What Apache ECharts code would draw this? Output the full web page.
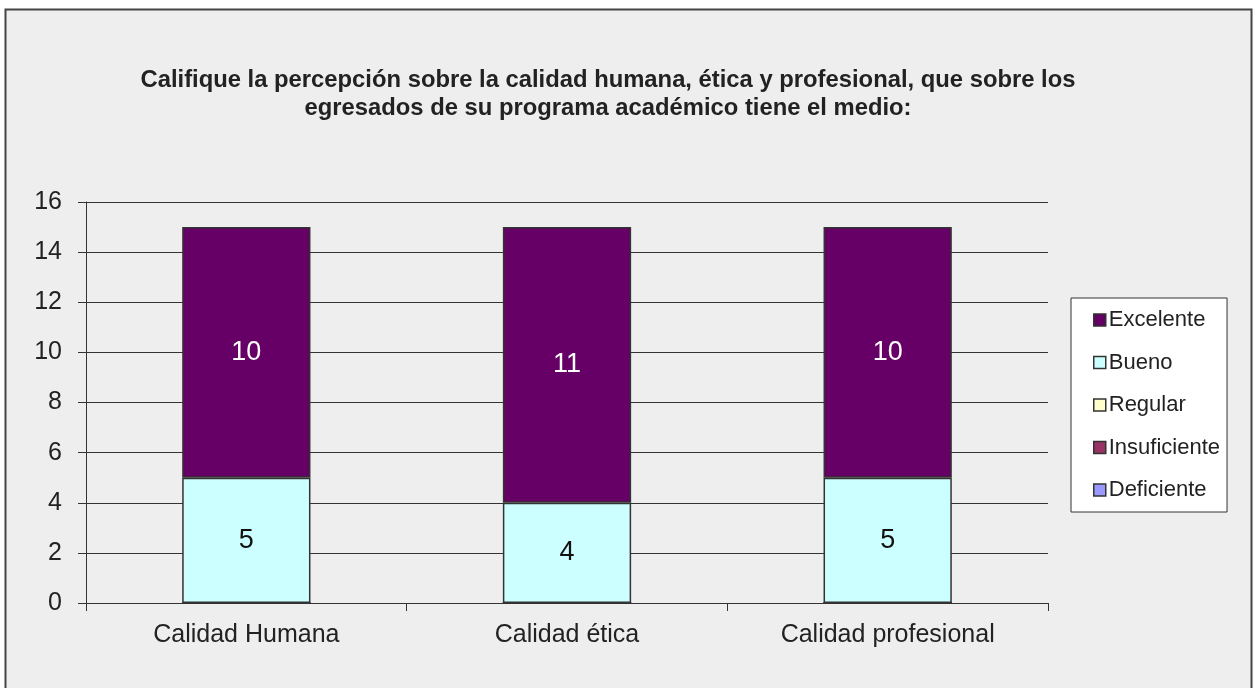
<!DOCTYPE html>
<html>
<head>
<meta charset="utf-8">
<script src="https://cdn.jsdelivr.net/npm/echarts@6/dist/echarts.min.js"></script>
<style>
  html, body { margin: 0; padding: 0; background: #fff; }
  #chart { width: 1254px; height: 688px; }
</style>
</head>
<body>
<div id="chart"></div>
<script>
const categories = ['Calidad Humana', 'Calidad ética', 'Calidad profesional'];
const deficiente = [0, 0, 0];
const insuficiente = [0, 0, 0];
const regular = [0, 0, 0];
const bueno = [5, 4, 5];
const excelente = [10, 11, 10];
const yTicks = [0, 16, 2]; // min, max, interval

const titleText = 'Califique la percepción sobre la calidad humana, ética y profesional, que sobre los\negresados de su programa académico tiene el medio:';
const font = 'Liberation Sans, Arial, sans-serif';

// stacked bottom to top, legend listed top to bottom like Excel
const seriesDefs = [
  { name: 'Deficiente', data: deficiente, color: '#9999FF', label: '#000' },
  { name: 'Insuficiente', data: insuficiente, color: '#993366', label: '#fff' },
  { name: 'Regular', data: regular, color: '#FFFFCC', label: '#000' },
  { name: 'Bueno', data: bueno, color: '#CCFFFF', label: '#111' },
  { name: 'Excelente', data: excelente, color: '#660066', label: '#fff' }
];

const el = document.getElementById('chart');
const chart = echarts.init(el);

const options = {
  backgroundColor: '#fff',
  animation: false,
  graphic: [{
    type: 'rect',
    z: -100,
    shape: { x: 5.5, y: 9.5, width: 1246, height: 700 },
    style: { fill: '#EEEEEE', stroke: '#444', lineWidth: 2 }
  }],
  title: {
    text: titleText,
    left: 603,
    textAlign: 'center',
    top: 61,
    textStyle: { fontFamily: font, fontSize: 23.8, fontWeight: 'bold', color: '#222', lineHeight: 28 }
  },
  legend: {
    orient: 'vertical',
    left: 1071,
    top: 298,
    padding: [11, 7, 11, 22],
    itemGap: 20.5,
    itemWidth: 12,
    itemHeight: 12,
    borderColor: '#333',
    borderWidth: 1,
    backgroundColor: '#fff',
    icon: 'rect',
    data: ['Excelente', 'Bueno', 'Regular', 'Insuficiente', 'Deficiente'],
    itemStyle: { borderColor: '#333', borderWidth: 1.5 },
    textStyle: { fontFamily: font, fontSize: 22, color: '#222', lineHeight: 22, padding: [0, 0, 0, -2] }
  },
  grid: { left: 86, right: 206, top: 202, bottom: 85, containLabel: false },
  xAxis: {
    type: 'category',
    data: categories,
    axisLine: { show: true, lineStyle: { color: '#333', width: 1 } },
    axisTick: { show: true, length: 8, lineStyle: { color: '#333' } },
    axisLabel: { fontFamily: font, fontSize: 25, color: '#222', margin: 20 }
  },
  yAxis: {
    type: 'value',
    min: yTicks[0],
    max: yTicks[1],
    interval: yTicks[2],
    axisLine: { show: true, lineStyle: { color: '#333', width: 1 } },
    axisTick: { show: true, length: 8, lineStyle: { color: '#333' } },
    splitLine: { show: true, lineStyle: { color: '#333', width: 1 } },
    axisLabel: { fontFamily: font, fontSize: 25, color: '#222', margin: 24 }
  },
  series: seriesDefs.map(s => ({
    name: s.name,
    type: 'bar',
    stack: 'total',
    data: s.data,
    barCategoryGap: '60%',
    itemStyle: { color: s.color, borderColor: '#333', borderWidth: 1.5 },
    label: {
      show: true,
      position: 'inside',
      fontFamily: font,
      fontSize: 27,
      color: s.label,
      formatter: p => (p.value ? String(p.value) : '')
    }
  }))
};

chart.setOption(options);
window.onresize = () => chart.resize();
</script>
</body>
</html>
